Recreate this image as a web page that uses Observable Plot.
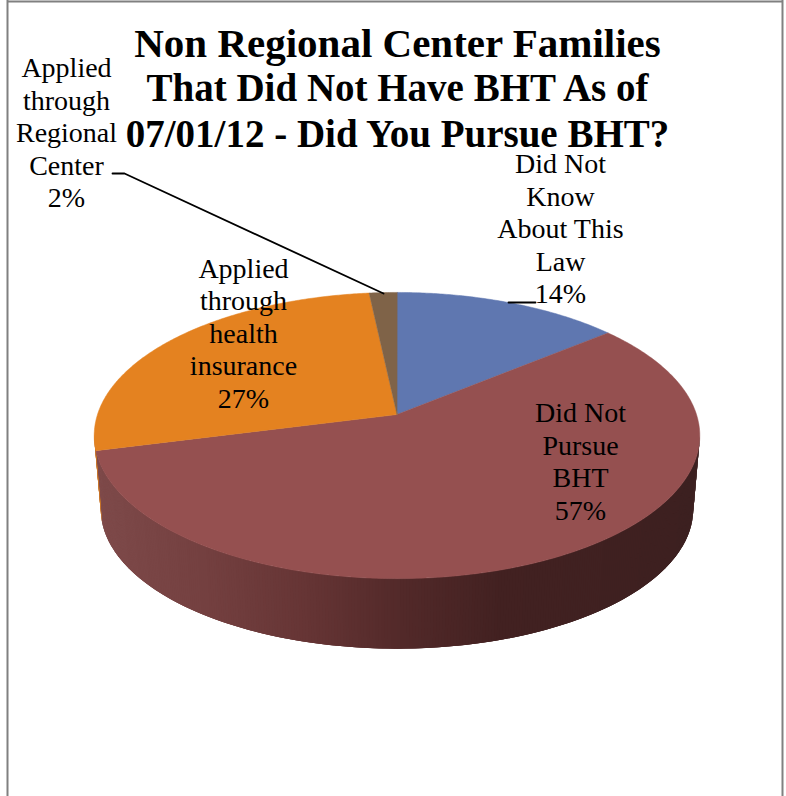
<!DOCTYPE html>
<html>
<head>
<meta charset="utf-8">
<script src="https://cdn.jsdelivr.net/npm/d3@7"></script>
<script src="https://cdn.jsdelivr.net/npm/@observablehq/plot@0.6"></script>
<style>
  html, body { margin: 0; padding: 0; background: #fff; overflow: hidden; }
  svg { display: block; }
</style>
</head>
<body>
<div id="chart"></div>
<script>
// ---- data ----
const titleLines = ["Non Regional Center Families", "That Did Not Have BHT As of", "07/01/12 - Did You Pursue BHT?"];
const categories = ["Did Not Know About This Law", "Did Not Pursue BHT", "Applied through health insurance", "Applied through Regional Center"];
const labelLines = ["Did Not\nKnow\nAbout This\nLaw", "Did Not\nPursue\nBHT", "Applied\nthrough\nhealth\ninsurance", "Applied\nthrough\nRegional\nCenter"];
const shares = [14, 57, 27.3, 1.7];            // slice sizes as measured on the picture
const percentLabels = ["14%", "57%", "27%", "2%"];
const sliceColors = ["#5f77b0", "#955050", "#e48220", "#7f6348"];

// ---- layout ----
const W = 786, H = 796;
const pie = {cx: 396.5, cy: 414, A: 299.5, B: 140, k: 0.147};
const floor = {cx: 396.5, cy: 488, A: 293, B: 136.6, k: 0.147};
const labelAnchors = [[560, 227.5], [580, 460], [243, 332], [66, 131.5]];
const titleLayout = [[397, 43, 41], [397, 88.5, 39], [397, 134.5, 39]];
const leaderLines = [
  [[508, 302], [535, 302]],
  [[112, 173], [124, 173], [383, 293]]
];
const wallStops = [[95, "#7e4a4a"], [200, "#744040"], [300, "#663535"], [400, "#522929"], [500, "#422121"], [700, "#3d2020"]];

// ---- geometry derived from the shares ----
const rad = d => d * Math.PI / 180;
const project = (p, deg) => {
  const s = 1 / (1 + p.k * Math.cos(rad(deg)));
  return [p.cx + p.A * Math.sin(rad(deg)) * s, p.cy - p.B * Math.cos(rad(deg)) * s];
};
const total = d3.sum(shares);
let acc = 0;
const slices = shares.map((v, i) => {
  const a0 = acc / total * 360; acc += v; const a1 = acc / total * 360;
  return {i, a0, a1, color: sliceColors[i]};
});

const topPts = [];
for (const s of slices) {
  topPts.push({x: pie.cx, y: pie.cy, z: "t" + s.i, c: s.color});
  for (let a = s.a0; a < s.a1; a += 0.5) {
    const [x, y] = project(pie, a);
    topPts.push({x, y, z: "t" + s.i, c: s.color});
  }
  const [x, y] = project(pie, s.a1);
  topPts.push({x, y, z: "t" + s.i, c: s.color});
}

const wallShade = d3.scaleLinear().domain(wallStops.map(d => d[0])).range(wallStops.map(d => d[1])).clamp(true);
const wallPts = [];
// strips overlap their neighbour so that no seam shows between them
for (let a = 98; a < 262; a += 0.5) {
  const b = a + 1.5;
  const [x0, y0] = project(pie, a), [x1, y1] = project(pie, b);
  const [x2, y2] = project(floor, b), [x3, y3] = project(floor, a);
  const c = a > slices[1].a1 ? "#c87428" : wallShade((x0 + x1) / 2);
  for (const [x, y] of [[x0, y0], [x1, y1], [x2, y2], [x3, y3]]) {
    wallPts.push({x, y, z: "w" + a, c});
  }
}

const labels = categories.map((name, i) => ({
  name, text: labelLines[i] + "\n" + percentLabels[i], x: labelAnchors[i][0], y: labelAnchors[i][1]
}));
const titles = titleLines.map((text, i) => ({text, x: titleLayout[i][0], y: titleLayout[i][1], size: titleLayout[i][2]}));
const leaderPts = leaderLines.flatMap((l, i) => l.map(([x, y]) => ({x, y, z: i})));
const serif = "'Liberation Serif', serif";

const chart = Plot.plot({
  width: W, height: H,
  margin: 0,
  x: {domain: [0, W], range: [0, W], axis: null},
  y: {domain: [0, H], range: [0, H], axis: null},
  marks: [
    Plot.ruleX([7, 782], {y1: 0, y2: H, stroke: "#808080", strokeWidth: 2}),
    Plot.ruleY([1], {x1: 7, x2: 782, stroke: "#808080", strokeWidth: 2}),
    Plot.line(wallPts, {x: "x", y: "y", z: "z", fill: "c", stroke: "none", curve: "linear-closed"}),
    Plot.line(topPts, {x: "x", y: "y", z: "z", fill: "c", stroke: "c", strokeWidth: 0.5, curve: "linear-closed"}),
    Plot.line(leaderPts, {x: "x", y: "y", z: "z", stroke: "#000", strokeWidth: 1.8, curve: "linear"}),
    Plot.text(labels, {x: "x", y: "y", text: "text", fontSize: 28, lineHeight: 1.16, textAnchor: "middle", fill: "#000", fontFamily: serif}),
    Plot.text(titles, {x: "x", y: "y", text: "text", fontSize: d => d.size, fontWeight: "bold", textAnchor: "middle", fill: "#000", fontFamily: serif})
  ]
});
document.getElementById("chart").appendChild(chart);
</script>
</body>
</html>
